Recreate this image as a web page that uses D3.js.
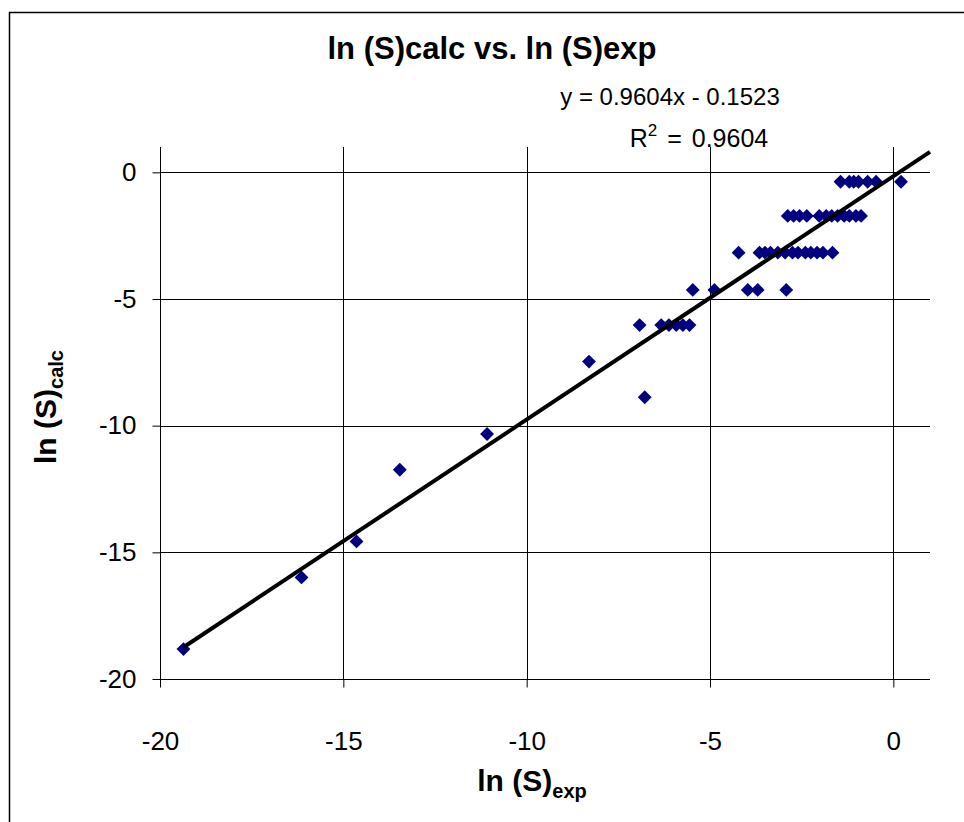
<!DOCTYPE html>
<html>
<head>
<meta charset="utf-8">
<script src="https://cdn.jsdelivr.net/npm/d3@7"></script>
<style>
  html, body { margin: 0; padding: 0; background: #fff; }
  svg { display: block; font-family: "Liberation Sans", Arial, sans-serif; }
</style>
</head>
<body>
<svg id="chart" width="964" height="822"></svg>
<script>
// ---- Data ----
const lnSexp = [
  -1.44, -1.2, -1.08, -0.95, -0.7, -0.47, 0.21,
  -2.88, -2.72, -2.56, -2.36, -2.02, -1.83, -1.68, -1.52, -1.34, -1.2, -1.02, -0.88,
  -4.22, -3.65, -3.5, -3.35, -3.15, -2.95, -2.75, -2.6, -2.4, -2.25, -2.08, -1.92, -1.66,
  -5.47, -4.88, -3.97, -3.7, -2.92,
  -6.92, -6.33, -6.12, -5.92, -5.74, -5.56,
  -8.3, -6.78, -11.08, -13.46, -14.64, -16.14, -19.36
];
const lnScalc = [
  -0.37, -0.37, -0.37, -0.37, -0.37, -0.37, -0.37,
  -1.72, -1.72, -1.72, -1.72, -1.72, -1.72, -1.72, -1.72, -1.72, -1.72, -1.72, -1.72,
  -3.17, -3.17, -3.17, -3.17, -3.17, -3.17, -3.17, -3.17, -3.17, -3.17, -3.17, -3.17, -3.17,
  -4.64, -4.64, -4.64, -4.64, -4.64,
  -6.03, -6.03, -6.03, -6.03, -6.03, -6.03,
  -7.47, -8.88, -10.33, -11.74, -14.57, -15.99, -18.82
];
const xTicks = [-20, -15, -10, -5, 0];
const yTicks = [0, -5, -10, -15, -20];
const trendSlope = 0.9604;
const trendIntercept = -0.1523;
const rSquared = 0.9604;
const titleText = "ln (S)calc vs. ln (S)exp";

// ---- Layout ----
const svg = d3.select("#chart");
const pLeft = 160, pRight = 930, pTop = 147, pBottom = 679;

const x = d3.scaleLinear().domain([-20, 1]).range([pLeft, pRight]);
const y = d3.scaleLinear().domain([-20, 1]).range([pBottom, pTop]);

// outer chart border
svg.append("rect")
  .attr("x", 9.5).attr("y", 12.5)
  .attr("width", 1000).attr("height", 1000)
  .attr("fill", "none").attr("stroke", "#000").attr("stroke-width", 1.5);

// gridlines
svg.append("g").selectAll("line").data(xTicks.filter(d => d !== -20)).join("line")
  .attr("x1", d => Math.round(x(d)) + 0.5).attr("x2", d => Math.round(x(d)) + 0.5)
  .attr("y1", pTop).attr("y2", pBottom)
  .attr("stroke", "#000").attr("stroke-width", 1);
svg.append("g").selectAll("line").data(yTicks.filter(d => d !== -20)).join("line")
  .attr("x1", pLeft).attr("x2", pRight)
  .attr("y1", d => Math.round(y(d)) + 0.5).attr("y2", d => Math.round(y(d)) + 0.5)
  .attr("stroke", "#000").attr("stroke-width", 1);

// axes
const fmt = d => String(d);
const xAxis = d3.axisBottom(x).tickValues(xTicks).tickFormat(fmt).tickSize(8).tickSizeOuter(0).tickPadding(44);
const yAxis = d3.axisLeft(y).tickValues(yTicks).tickFormat(fmt).tickSize(8).tickSizeOuter(0).tickPadding(16);

const gx = svg.append("g").attr("transform", `translate(0,${pBottom + 0.5})`).call(xAxis);
const gy = svg.append("g").attr("transform", `translate(${pLeft + 0.5},0)`).call(yAxis);
[gx, gy].forEach(g => {
  g.select(".domain").attr("stroke", "#000").attr("stroke-width", 1);
  g.selectAll(".tick line").attr("stroke", "#000");
  g.selectAll(".tick text")
    .attr("font-family", "Liberation Sans, Arial, sans-serif")
    .attr("font-size", 26).attr("fill", "#000");
});
gy.select(".domain").attr("d", `M0,${pTop}V${pBottom}`);
gx.select(".domain").attr("d", `M${pLeft},0H${pRight}`);

// points
const pts = lnSexp.map((v, i) => [v, lnScalc[i]]);
svg.append("g").selectAll("path").data(pts).join("path")
  .attr("d", d3.symbol(d3.symbolSquare, 96))
  .attr("transform", d => `translate(${x(d[0])},${y(d[1])}) rotate(45)`)
  .attr("fill", "#000080");

// trendline
const xMin = d3.min(lnSexp);
const xMax = x.domain()[1];
svg.append("line")
  .attr("x1", x(xMin)).attr("y1", y(trendSlope * xMin + trendIntercept))
  .attr("x2", x(xMax)).attr("y2", y(trendSlope * xMax + trendIntercept))
  .attr("stroke", "#000").attr("stroke-width", 4);

// title
svg.append("text")
  .attr("x", 492).attr("y", 59)
  .attr("text-anchor", "middle")
  .attr("font-size", 31).attr("font-weight", "bold")
  .text(titleText);

// equation + R^2
svg.append("text")
  .attr("x", 670).attr("y", 105)
  .attr("text-anchor", "middle")
  .attr("font-size", 24)
  .text(`y = ${trendSlope}x - ${Math.abs(trendIntercept)}`);
const r2 = svg.append("text")
  .attr("x", 699).attr("y", 147)
  .attr("text-anchor", "middle")
  .attr("font-size", 25)
  .attr("word-spacing", 3);
r2.append("tspan").text("R");
r2.append("tspan").attr("dy", -11).attr("font-size", 17).text("2");
r2.append("tspan").attr("dy", 11).text(` = ${rSquared}`);

// x axis label
const xl = svg.append("text")
  .attr("x", 532).attr("y", 791)
  .attr("text-anchor", "middle")
  .attr("font-size", 30).attr("font-weight", "bold");
xl.append("tspan").text("ln (S)");
xl.append("tspan").attr("dy", 7).attr("font-size", 20).text("exp");

// y axis label
const yl = svg.append("text")
  .attr("transform", "translate(56,407) rotate(-90)")
  .attr("text-anchor", "middle")
  .attr("font-size", 30).attr("font-weight", "bold");
yl.append("tspan").text("ln (S)");
yl.append("tspan").attr("dy", 7).attr("font-size", 20).text("calc");
</script>
</body>
</html>
